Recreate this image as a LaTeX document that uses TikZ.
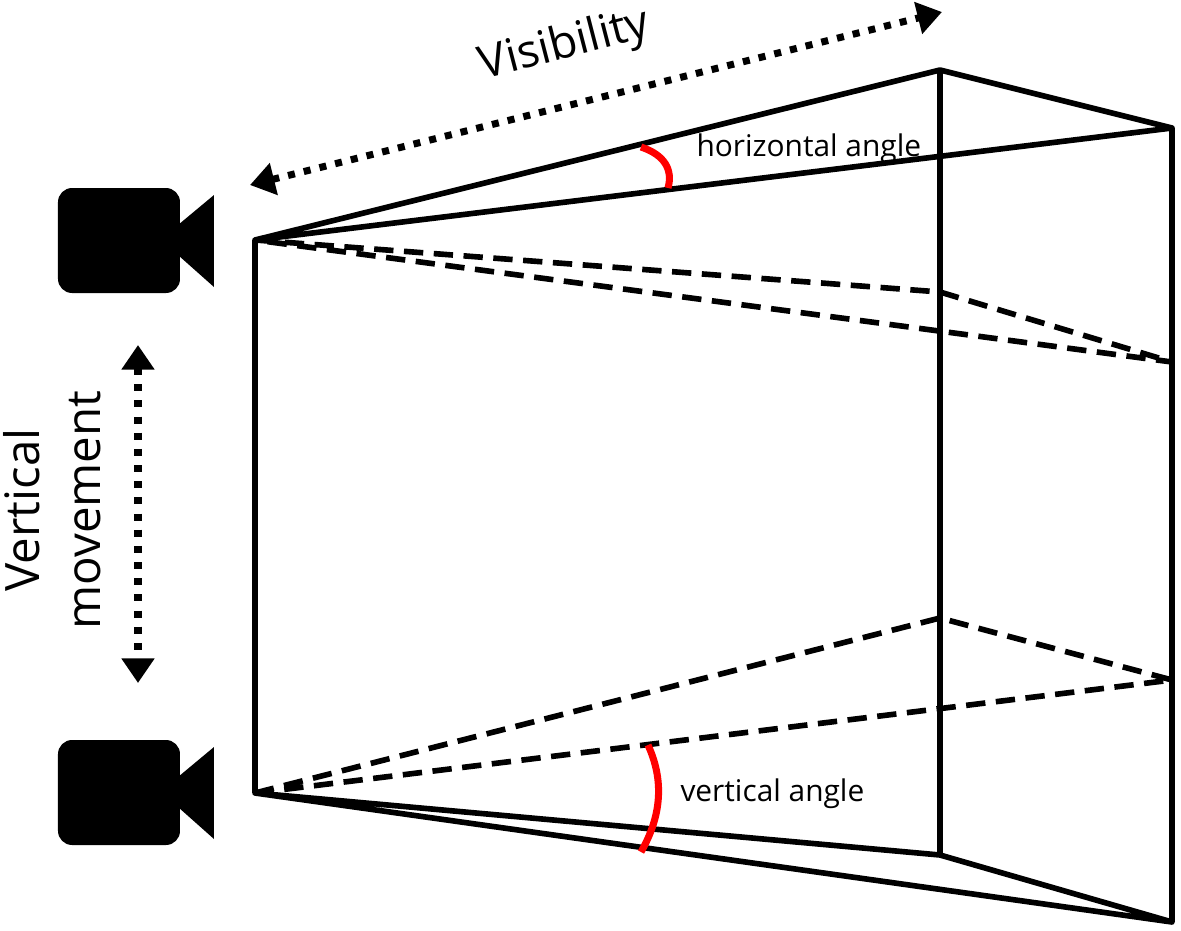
\documentclass[tikz,border=0pt]{standalone}
\usepackage{fontspec}
\setmainfont{Open Sans}
\usetikzlibrary{arrows.meta}
\begin{document}
\begin{tikzpicture}[x=0.1mm,y=-0.1mm,line width=1.6pt,
  edge/.style={draw,line join=round},
  hidden/.style={draw,dash pattern=on 5.5pt off 3pt},
  dotarrow/.style={draw,line width=2pt,dash pattern=on 2pt off 2.6pt,{Triangle[length=7pt,width=9pt]}-{Triangle[length=7pt,width=9pt]}},
  angle/.style={draw,red,line width=2pt},
  camera/.pic={\fill[rounded corners=4pt] (0,0) rectangle (122,105);
    \fill (120,37) -- (156,7) -- (156,99) -- (120,67) -- cycle;}]
\useasboundingbox (0,0) rectangle (1181,931);
% corners
\coordinate (a1) at (255,240);
\coordinate (a2) at (255,793);
\coordinate (ft) at (940,70);
\coordinate (rt) at (1172,128);
\coordinate (fm) at (940,292);
\coordinate (rm) at (1172,362);
\coordinate (fl) at (940,618);
\coordinate (rl) at (1172,680);
\coordinate (fb) at (940,855);
\coordinate (rb) at (1172,922);
% cameras
\pic at (58,188) {camera};
\pic at (58,740) {camera};
% frustum
\path[edge] (a1) -- (a2);
\path[edge] (ft) -- (fb);
\path[edge] (rt) -- (rb);
\path[edge] (a1) -- (ft) -- (rt) -- cycle;
\path[edge] (a2) -- (fb) -- (rb) -- cycle;
\path[hidden] (a1) -- (fm) -- (rm) -- cycle;
\path[hidden] (a2) -- (fl) -- (rl) -- cycle;
% angles
\path[angle] (641,147) .. controls (665,155) and (673,170) .. (668,188);
\node[anchor=west,font=\fontsize{8.5}{10}\selectfont] (hlab) at (682,149) {horizontal angle};
\path[angle] (648,745) .. controls (664,780) and (662,815) .. (641,852);
\node[anchor=west,font=\fontsize{8.5}{10}\selectfont] (vlab) at (666,794) {vertical angle};
% arrows
\coordinate (v1) at (250,185);
\coordinate (v2) at (942,12);
\path[dotarrow] (v1) -- (v2);
\node[rotate=14.5,font=\fontsize{13}{15}\selectfont] (vis) at (565,46) {Visibility};
\coordinate (m1) at (138,345);
\coordinate (m2) at (138,683);
\path[dotarrow] (m1) -- (m2);
\node[rotate=90,align=center,font=\fontsize{13.5}{17.5}\selectfont] (mov) at (52,510) {Vertical\\movement};
\end{tikzpicture}
\end{document}
